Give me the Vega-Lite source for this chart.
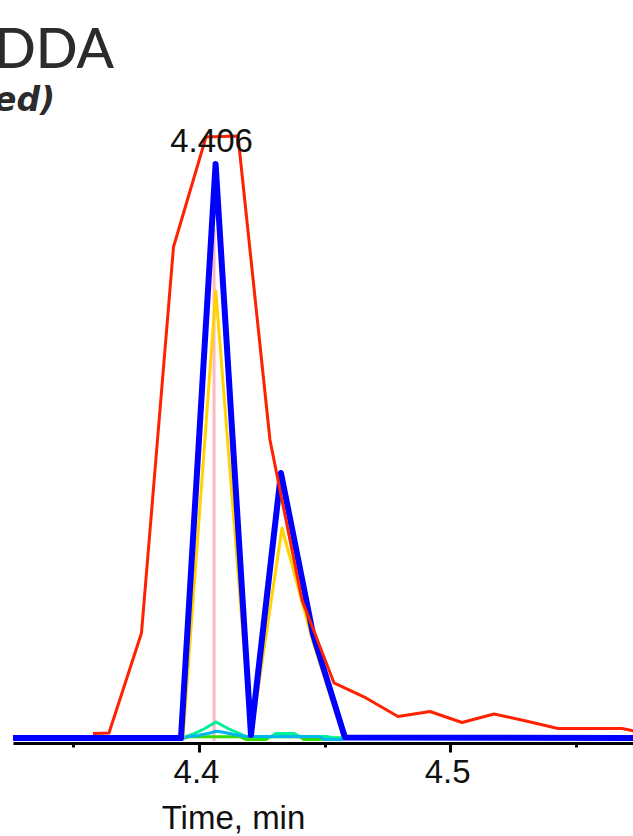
{
  "$schema": "https://vega.github.io/schema/vega-lite/v6.json",
  "width": 620,
  "height": 623,
  "autosize": {"type": "none"},
  "padding": {"left": 13, "top": 120, "right": 0, "bottom": 93},
  "background": "white",
  "config": {
    "view": {"stroke": null},
    "axis": {
      "domainColor": "#000000",
      "domainWidth": 3,
      "tickColor": "#000000",
      "tickWidth": 3,
      "grid": false,
      "labelFont": "Liberation Sans",
      "labelFontSize": 33,
      "labelColor": "#111111",
      "titleFont": "Liberation Sans",
      "titleFontSize": 33,
      "titleFontWeight": "normal",
      "titleColor": "#111111"
    }
  },
  "title": {
    "text": "DDA",
    "subtitle": "ed)",
    "anchor": "start",
    "frame": "group",
    "align": "left",
    "dx": -19,
    "font": "Lato",
    "fontSize": 55,
    "fontWeight": 500,
    "color": "#2b2b2b",
    "subtitleFont": "DejaVu Sans",
    "subtitleFontSize": 33,
    "subtitleFontStyle": "italic",
    "subtitleFontWeight": "bold",
    "subtitleColor": "#2b2b2b",
    "subtitlePadding": 5,
    "offset": 1
  },
  "datasets": {
    "red": [
      {"t": 4.3578, "v": 0.75}, {"t": 4.36417, "v": 0.83}, {"t": 4.37711, "v": 17.5},
      {"t": 4.38985, "v": 81.83}, {"t": 4.40279, "v": 100.17}, {"t": 4.41553, "v": 100.33},
      {"t": 4.42826, "v": 49.67}, {"t": 4.441, "v": 23.0}, {"t": 4.45374, "v": 9.17},
      {"t": 4.46648, "v": 6.67}, {"t": 4.47922, "v": 3.58}, {"t": 4.49196, "v": 4.42},
      {"t": 4.5047, "v": 2.58}, {"t": 4.51744, "v": 4.0}, {"t": 4.53018, "v": 2.83},
      {"t": 4.54291, "v": 1.58}, {"t": 4.55565, "v": 1.58}, {"t": 4.56839, "v": 1.58},
      {"t": 4.58113, "v": 0.5}
    ],
    "blue": [
      {"t": 4.32596, "v": 0}, {"t": 4.39283, "v": 0}, {"t": 4.40661, "v": 95.67},
      {"t": 4.4207, "v": 0.5}, {"t": 4.43264, "v": 44.17}, {"t": 4.44538, "v": 17.33},
      {"t": 4.45812, "v": 0.08}, {"t": 4.58113, "v": 0}
    ],
    "gold": [
      {"t": 4.32596, "v": 0}, {"t": 4.39363, "v": 0}, {"t": 4.40669, "v": 74.5},
      {"t": 4.4207, "v": 0.17}, {"t": 4.43304, "v": 35.0}, {"t": 4.44538, "v": 16.0},
      {"t": 4.45772, "v": 0}, {"t": 4.58113, "v": 0}
    ],
    "cyan": [
      {"t": 4.32596, "v": 0}, {"t": 4.39323, "v": -0.25}, {"t": 4.39482, "v": 0.17},
      {"t": 4.3996, "v": 0.42}, {"t": 4.40438, "v": 0.83}, {"t": 4.40677, "v": 1.12},
      {"t": 4.40916, "v": 1.0}, {"t": 4.41393, "v": 0.58}, {"t": 4.41871, "v": 0.25},
      {"t": 4.44817, "v": 0.22}, {"t": 4.44976, "v": -0.25}, {"t": 4.45693, "v": -0.25},
      {"t": 4.45932, "v": 0}, {"t": 4.58113, "v": 0}
    ],
    "aqua": [
      {"t": 4.32596, "v": 0}, {"t": 4.39363, "v": 0}, {"t": 4.39721, "v": 0.58},
      {"t": 4.40199, "v": 1.5}, {"t": 4.40677, "v": 2.67}, {"t": 4.41154, "v": 1.58},
      {"t": 4.41632, "v": 0.67}, {"t": 4.41871, "v": 0.25}, {"t": 4.42826, "v": 0.17},
      {"t": 4.43065, "v": 0.75}, {"t": 4.43782, "v": 0.75}, {"t": 4.44021, "v": 0.25},
      {"t": 4.45096, "v": 0.25}, {"t": 4.45334, "v": 0}, {"t": 4.58113, "v": 0}
    ],
    "green": [
      {"t": 4.32596, "v": 0}, {"t": 4.39363, "v": 0}, {"t": 4.39602, "v": 0.22},
      {"t": 4.41632, "v": 0.22}, {"t": 4.41871, "v": -0.25}, {"t": 4.42667, "v": -0.25},
      {"t": 4.42826, "v": 0.22}, {"t": 4.44021, "v": 0.22}, {"t": 4.4418, "v": -0.25},
      {"t": 4.44857, "v": -0.25}, {"t": 4.45056, "v": 0}, {"t": 4.58113, "v": 0}
    ],
    "marker": [{"t": 4.406, "v": 84.83, "v2": -0.5}],
    "apex": [{"t": 4.406, "v": 95.67, "label": "4.406"}]
  },
  "encoding": {
    "x": {
      "field": "t",
      "type": "quantitative",
      "scale": {"domain": [4.32596, 4.57277], "nice": false, "zero": false},
      "axis": {
        "values": [4.35, 4.4, 4.45, 4.5, 4.55],
        "labelExpr": "abs(datum.value * 10 - round(datum.value * 10)) < 0.001 ? format(datum.value, '.1f') : ''",
        "tickSize": {"condition": {"test": "abs(datum.value * 10 - round(datum.value * 10)) < 0.001", "value": 9}, "value": 4},
        "labelBaseline": "alphabetic",
        "labelPadding": 30,
        "labelOffset": -3,
        "labelFlush": false,
        "labelOverlap": false,
        "title": "Time, min",
        "titleX": 220,
        "titleY": 85,
        "titleAlign": "center",
        "titleBaseline": "alphabetic"
      }
    },
    "y": {
      "field": "v",
      "type": "quantitative",
      "scale": {"domain": [-0.8333, 103], "nice": false, "zero": false},
      "axis": null
    }
  },
  "layer": [
    {
      "data": {"name": "marker"},
      "mark": {"type": "rule", "color": "#ffb6c1", "strokeWidth": 3},
      "encoding": {"y2": {"field": "v2"}}
    },
    {
      "data": {"name": "green"},
      "mark": {"type": "line", "color": "#33dd00", "strokeWidth": 3, "clip": true}
    },
    {
      "data": {"name": "aqua"},
      "mark": {"type": "line", "color": "#00f09a", "strokeWidth": 3, "clip": true}
    },
    {
      "data": {"name": "cyan"},
      "mark": {"type": "line", "color": "#00b4f0", "strokeWidth": 3, "clip": true}
    },
    {
      "data": {"name": "gold"},
      "mark": {"type": "line", "color": "#ffd200", "strokeWidth": 3, "clip": true, "strokeJoin": "round"}
    },
    {
      "data": {"name": "blue"},
      "mark": {"type": "line", "color": "#0000ff", "strokeWidth": 6, "clip": true, "strokeJoin": "round"}
    },
    {
      "data": {"name": "red"},
      "mark": {"type": "line", "color": "#ff2200", "strokeWidth": 3, "clip": true, "strokeJoin": "round"}
    },
    {
      "data": {"name": "apex"},
      "mark": {"type": "text", "font": "Liberation Sans", "fontSize": 33, "color": "#111111", "align": "center", "baseline": "alphabetic", "dy": -12, "dx": -2.5},
      "encoding": {"text": {"field": "label"}}
    }
  ]
}
